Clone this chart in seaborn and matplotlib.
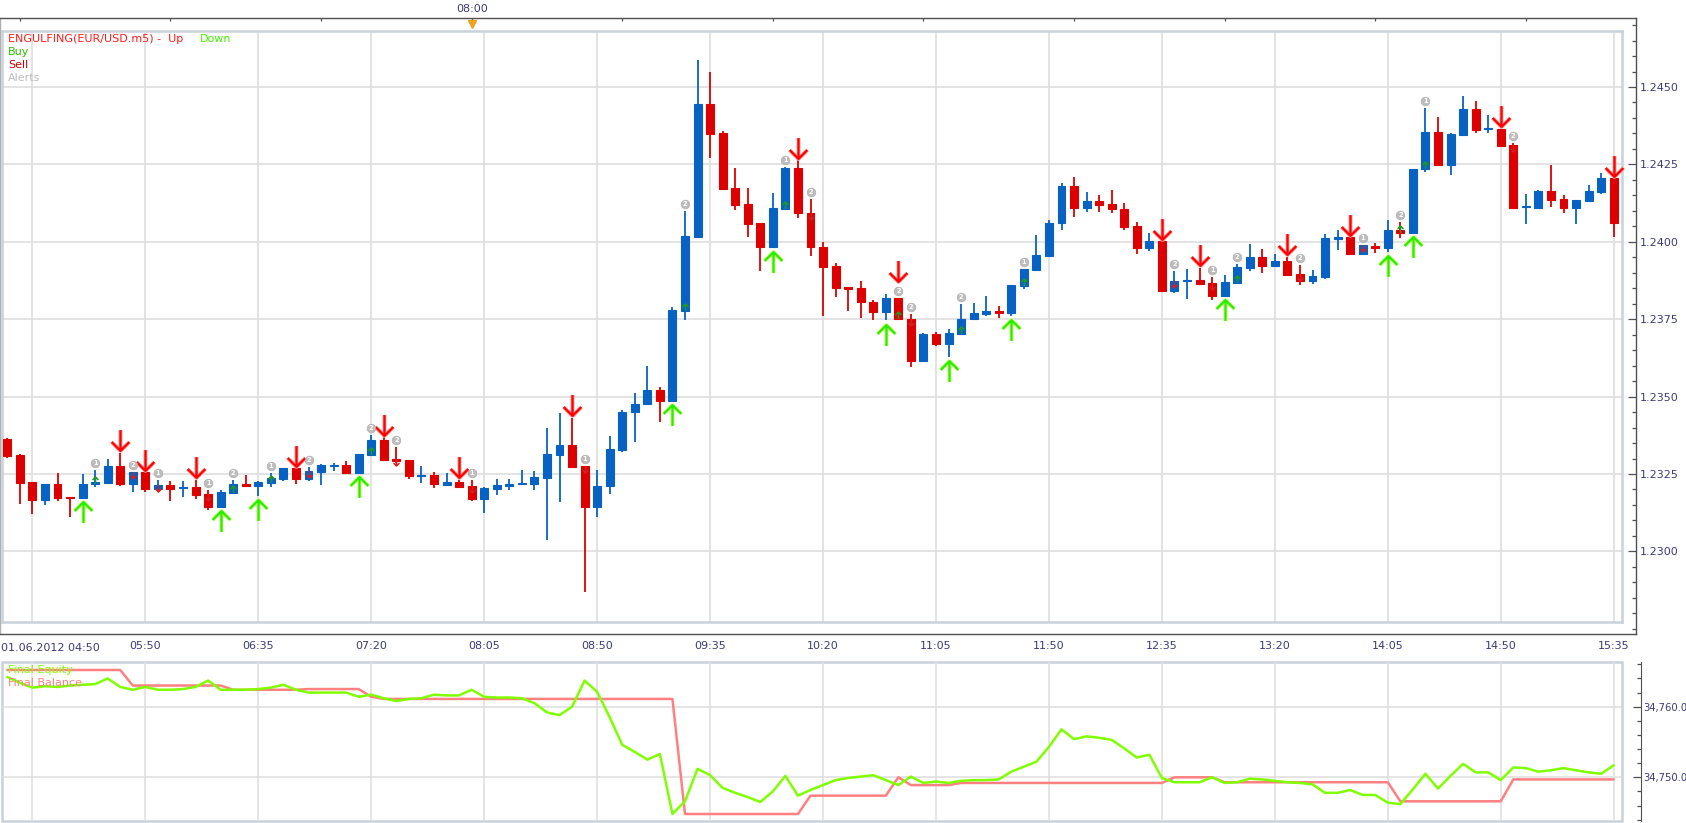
import matplotlib
matplotlib.use("Agg")
import matplotlib.pyplot as plt
import matplotlib.transforms as mtransforms
from matplotlib.path import Path
from matplotlib.patches import Rectangle
from matplotlib.ticker import FixedLocator, MultipleLocator, FuncFormatter
import numpy as np
import pandas as pd
import seaborn as sns

# ---- values (EUR/USD m5, 01.06.2012) ----
time_labels = ["01.06.2012 04:50", "05:50", "06:35", "07:20", "08:05", "08:50", "09:35", "10:20",
               "11:05", "11:50", "12:35", "13:20", "14:05", "14:50", "15:35"]
label_bars = [2, 11, 20, 29, 38, 47, 56, 65, 74, 83, 92, 101, 110, 119, 128]
hour_bars = [1, 13, 25, 37, 49, 61, 73, 85, 97, 109, 121]
now_bar = 37          # "08:00" marker on the top ruler
now_label = "08:00"

open_ = [
    1.23363, 1.23311, 1.23224, 1.23167, 1.23218, 1.23175, 1.23174, 1.23217, 1.23222, 1.23276,
    1.23219, 1.23256, 1.23200, 1.23215, 1.23205, 1.23207, 1.23185, 1.23145, 1.23190, 1.23217,
    1.23212, 1.23222, 1.23235, 1.23269, 1.23235, 1.23258, 1.23276, 1.23279, 1.23254, 1.23311,
    1.23359, 1.23299, 1.23295, 1.23245, 1.23247, 1.23216, 1.23224, 1.23211, 1.23168, 1.23203,
    1.23211, 1.23217, 1.23219, 1.23238, 1.23312, 1.23344, 1.23276, 1.23143, 1.23210, 1.23328,
    1.23449, 1.23475, 1.23522, 1.23487, 1.23778, 1.24016, 1.24445, 1.24351, 1.24174, 1.24122,
    1.24061, 1.23982, 1.24106, 1.24238, 1.24094, 1.23983, 1.23921, 1.23854, 1.23850, 1.23807,
    1.23773, 1.23818, 1.23752, 1.23616, 1.23702, 1.23671, 1.23703, 1.23750, 1.23766, 1.23775,
    1.23770, 1.23857, 1.23909, 1.23954, 1.24060, 1.24181, 1.24108, 1.24132, 1.24121, 1.24107,
    1.24050, 1.23980, 1.24002, 1.23842, 1.23872, 1.23876, 1.23867, 1.23826, 1.23868, 1.23916,
    1.23950, 1.23921, 1.23938, 1.23896, 1.23874, 1.23885, 1.24009, 1.24015, 1.23961, 1.23988,
    1.23981, 1.24038, 1.24029, 1.24234, 1.24355, 1.24249, 1.24345, 1.24429, 1.24365, 1.24365,
    1.24313, 1.24113, 1.24110, 1.24164, 1.24138, 1.24110, 1.24133, 1.24162, 1.24206,
]
high_ = [
    1.23367, 1.23314, 1.23224, 1.23218, 1.23253, 1.23175, 1.23250, 1.23263, 1.23300, 1.23319,
    1.23256, 1.23256, 1.23231, 1.23227, 1.23227, 1.23231, 1.23198, 1.23198, 1.23231, 1.23247,
    1.23226, 1.23252, 1.23269, 1.23269, 1.23271, 1.23282, 1.23286, 1.23292, 1.23314, 1.23376,
    1.23368, 1.23338, 1.23295, 1.23276, 1.23255, 1.23252, 1.23231, 1.23231, 1.23209, 1.23235,
    1.23234, 1.23263, 1.23260, 1.23397, 1.23448, 1.23432, 1.23276, 1.23264, 1.23374, 1.23457,
    1.23513, 1.23599, 1.23532, 1.23791, 1.24100, 1.24586, 1.24547, 1.24359, 1.24238, 1.24174,
    1.24061, 1.24158, 1.24242, 1.24264, 1.24137, 1.23999, 1.23930, 1.23854, 1.23872, 1.23811,
    1.23830, 1.23818, 1.23768, 1.23706, 1.23708, 1.23719, 1.23800, 1.23801, 1.23824, 1.23792,
    1.23859, 1.23913, 1.24023, 1.24070, 1.24189, 1.24210, 1.24162, 1.24150, 1.24166, 1.24124,
    1.24063, 1.24027, 1.24002, 1.23905, 1.23912, 1.23916, 1.23887, 1.23893, 1.23928, 1.23992,
    1.23976, 1.23959, 1.23951, 1.23925, 1.23909, 1.24024, 1.24037, 1.24015, 1.23989, 1.23997,
    1.24070, 1.24063, 1.24235, 1.24433, 1.24403, 1.24351, 1.24471, 1.24455, 1.24410, 1.24365,
    1.24318, 1.24154, 1.24167, 1.24248, 1.24150, 1.24135, 1.24183, 1.24221, 1.24206,
]
low_ = [
    1.23303, 1.23152, 1.23122, 1.23149, 1.23164, 1.23111, 1.23174, 1.23207, 1.23222, 1.23211,
    1.23193, 1.23191, 1.23193, 1.23164, 1.23177, 1.23170, 1.23134, 1.23145, 1.23190, 1.23207,
    1.23180, 1.23207, 1.23226, 1.23219, 1.23229, 1.23216, 1.23261, 1.23254, 1.23254, 1.23311,
    1.23292, 1.23284, 1.23233, 1.23220, 1.23206, 1.23216, 1.23205, 1.23164, 1.23123, 1.23182,
    1.23198, 1.23217, 1.23198, 1.23038, 1.23158, 1.23268, 1.22868, 1.23111, 1.23187, 1.23320,
    1.23354, 1.23475, 1.23418, 1.23487, 1.23749, 1.24016, 1.24271, 1.24172, 1.24103, 1.24016,
    1.23907, 1.23982, 1.24106, 1.24077, 1.23954, 1.23760, 1.23821, 1.23776, 1.23754, 1.23747,
    1.23747, 1.23750, 1.23594, 1.23613, 1.23664, 1.23629, 1.23701, 1.23747, 1.23761, 1.23754,
    1.23761, 1.23848, 1.23909, 1.23954, 1.24038, 1.24081, 1.24097, 1.24095, 1.24093, 1.24039,
    1.23961, 1.23971, 1.23842, 1.23836, 1.23816, 1.23860, 1.23812, 1.23826, 1.23863, 1.23905,
    1.23900, 1.23921, 1.23894, 1.23860, 1.23865, 1.23880, 1.23975, 1.23961, 1.23957, 1.23964,
    1.23968, 1.24013, 1.24029, 1.24227, 1.24249, 1.24217, 1.24343, 1.24353, 1.24351, 1.24311,
    1.24105, 1.24057, 1.24110, 1.24113, 1.24094, 1.24057, 1.24133, 1.24155, 1.24016,
]
close_ = [
    1.23308, 1.23222, 1.23167, 1.23218, 1.23174, 1.23173, 1.23218, 1.23224, 1.23276, 1.23219,
    1.23256, 1.23200, 1.23215, 1.23203, 1.23207, 1.23183, 1.23145, 1.23192, 1.23217, 1.23211,
    1.23224, 1.23237, 1.23269, 1.23235, 1.23260, 1.23279, 1.23278, 1.23254, 1.23314, 1.23359,
    1.23295, 1.23293, 1.23245, 1.23247, 1.23217, 1.23223, 1.23209, 1.23168, 1.23206, 1.23215,
    1.23218, 1.23220, 1.23239, 1.23314, 1.23344, 1.23274, 1.23143, 1.23212, 1.23332, 1.23450,
    1.23477, 1.23522, 1.23487, 1.23780, 1.24018, 1.24445, 1.24348, 1.24172, 1.24119, 1.24058,
    1.23982, 1.24109, 1.24238, 1.24094, 1.23982, 1.23919, 1.23852, 1.23848, 1.23805, 1.23773,
    1.23818, 1.23750, 1.23616, 1.23702, 1.23670, 1.23705, 1.23752, 1.23769, 1.23776, 1.23770,
    1.23859, 1.23911, 1.23956, 1.24061, 1.24181, 1.24108, 1.24132, 1.24119, 1.24106, 1.24048,
    1.23980, 1.24002, 1.23842, 1.23873, 1.23875, 1.23865, 1.23826, 1.23870, 1.23918, 1.23950,
    1.23921, 1.23938, 1.23894, 1.23874, 1.23889, 1.24012, 1.24015, 1.23961, 1.23989, 1.23980,
    1.24038, 1.24029, 1.24235, 1.24355, 1.24249, 1.24348, 1.24429, 1.24361, 1.24368, 1.24311,
    1.24110, 1.24115, 1.24164, 1.24135, 1.24110, 1.24135, 1.24164, 1.24206, 1.24061,
]

sell_bars = [9, 11, 15, 23, 30, 36, 45, 63, 71, 92, 95, 102, 107, 119, 128]
buy_bars = [6, 17, 20, 28, 53, 61, 70, 75, 80, 97, 110, 112]

alert_bars = [7, 10, 12, 16, 18, 21, 24, 29, 31, 37, 46, 54, 62, 64, 71, 72, 76, 81,
              93, 96, 98, 103, 108, 111, 113, 120]
alert_nums = ["1", "2", "1", "1", "2", "1", "2", "2", "2", "1", "1", "2", "1", "2", "2", "2", "2", "1",
              "2", "1", "2", "2", "1", "2", "1", "2"]
alert_side = ["buy", "sell", "sell", "sell", "buy", "buy", "sell", "buy", "sell", "sell", "sell", "buy",
              "buy", "sell", "buy", "sell", "buy", "buy", "sell", "sell", "buy", "sell", "sell", "buy",
              "buy", "sell"]

price_ticks = [1.2300, 1.2325, 1.2350, 1.2375, 1.2400, 1.2425, 1.2450]

equity = [
    34764.2, 34763.4, 34762.7, 34762.9, 34762.8, 34763.0, 34763.1, 34763.2, 34764.0, 34762.8,
    34762.4, 34762.8, 34762.4, 34762.4, 34762.5, 34762.8, 34763.7, 34762.4, 34762.4, 34762.4,
    34762.5, 34762.7, 34763.1, 34762.4, 34762.0, 34762.0, 34762.0, 34762.0, 34761.4, 34761.7,
    34761.2, 34760.8, 34761.1, 34761.2, 34761.7, 34761.6, 34761.6, 34762.4, 34761.4, 34761.3,
    34761.3, 34761.2, 34760.5, 34759.2, 34758.8, 34760.0, 34763.7, 34762.1, 34758.5, 34754.6,
    34753.6, 34752.5, 34753.3, 34744.8, 34746.6, 34751.2, 34750.3, 34748.5, 34747.8, 34747.2,
    34746.5, 34748.0, 34750.2, 34747.4, 34748.2, 34748.9, 34749.6, 34749.9, 34750.1, 34750.3,
    34749.6, 34748.9, 34750.1, 34749.2, 34749.4, 34749.2, 34749.5, 34749.6, 34749.6, 34749.7,
    34750.8, 34751.5, 34752.2, 34754.3, 34756.8, 34755.4, 34755.8, 34755.6, 34755.3, 34754.1,
    34752.8, 34753.2, 34749.9, 34749.3, 34749.3, 34749.3, 34750.0, 34749.2, 34749.3, 34749.8,
    34749.7, 34749.5, 34749.3, 34749.2, 34749.0, 34747.8, 34747.8, 34748.2, 34747.5, 34747.5,
    34746.4, 34746.2, 34748.3, 34750.5, 34748.4, 34750.2, 34751.9, 34750.7, 34750.7, 34749.6,
    34751.4, 34751.3, 34750.8, 34751.0, 34751.3, 34751.0, 34750.7, 34750.5, 34751.7,
]
balance_bars = [0, 9, 10, 17, 18, 23, 24, 28, 29, 30, 53, 54, 63, 64, 70, 71, 72, 75, 76, 92,
                93, 96, 97, 110, 111, 119, 120, 128]
balance_vals = [34765.2, 34765.2, 34763.0, 34763.0, 34762.4, 34762.4, 34762.5, 34762.5, 34761.4,
                34761.1, 34761.1, 34744.8, 34744.8, 34747.4, 34747.4, 34750.0, 34748.9, 34748.9,
                34749.2, 34749.2, 34750.0, 34750.0, 34749.3, 34749.3, 34746.6, 34746.6, 34749.7,
                34749.7]
equity_ticks = [34750, 34760]

# ---- pixel geometry of the reference screen ----
W, H = 1686, 823
BAR0, BAR_PX = 7.3, 12.55


def x_range(l, r):
    return ((l - BAR0) / BAR_PX, (r - BAR0) / BAR_PX)


def p_range(t, b):  # 1.2325 sits at y=474, 77.4 px per 0.0025
    return (1.2325 - (b - 474) / 77.4 * 0.0025, 1.2325 + (474 - t) / 77.4 * 0.0025)


def e_range(t, b):  # 34750 at y=777.3, 7.06 px per unit
    return (34750 - (b - 777.3) / 7.06, 34750 + (777.3 - t) / 7.06)


sns.set_style("white")
plt.rcParams["font.family"] = ["DejaVu Sans"]
plt.rcParams["font.size"] = 8

BLUE, RED = "#0862c4", "#dc0000"
AXIS_TXT = "#3b3b7a"
AXIS_LINE = "#505050"
GRID = "#dedede"
FRAME = "#c9d1da"

fig = plt.figure(figsize=(W / 100, H / 100), dpi=100)


def px_axes(l, t, r, b):
    return fig.add_axes([l / W, 1 - b / H, (r - l) / W, (b - t) / H])


# outer box: time ruler (top), time axis (bottom), price axis (right)
ax_box = px_axes(0, 18, 1636, 634)
ax_box.set_xlim(*x_range(0, 1636))
ax_box.set_ylim(*p_range(18, 634))
for s in ax_box.spines.values():
    s.set_color(AXIS_LINE)
    s.set_linewidth(1.0)
ax_box.spines["left"].set_color("#b0b0b0")
ax_box.xaxis.set_major_locator(FixedLocator(label_bars))
ax_box.set_xticklabels([""] + time_labels[1:])
ax_box.xaxis.set_minor_locator(MultipleLocator(1))
ax_box.tick_params(axis="x", which="major", direction="in", length=8.6, width=0.9, color=AXIS_LINE,
                   labelsize=8, labelcolor=AXIS_TXT, pad=5)
ax_box.tick_params(axis="x", which="minor", direction="in", length=3, width=0.8, color=AXIS_LINE)
ax_box.yaxis.set_major_locator(FixedLocator(price_ticks))
ax_box.yaxis.set_minor_locator(MultipleLocator(0.0005))
ax_box.yaxis.set_major_formatter(FuncFormatter(lambda v, p: f"{v:.4f}"))
ax_box.tick_params(axis="y", which="both", left=False, right=True, labelleft=False, labelright=True,
                   direction="in", color=AXIS_LINE, width=0.9)
ax_box.tick_params(axis="y", which="major", length=5.8, labelsize=8, labelcolor=AXIS_TXT, pad=2.5)
ax_box.tick_params(axis="y", which="minor", length=3)
ax_box.vlines(hour_bars, 1 - 3 / 616, 1, transform=ax_box.get_xaxis_transform(),
              color=AXIS_LINE, lw=0.9)
ax_box.plot([now_bar], [1 - 6 / 616], marker="v", ms=6, color="#f0a020",
            transform=ax_box.get_xaxis_transform(), clip_on=False, zorder=10)
ax_box.text(now_bar, 1, now_label, ha="center", va="center", color=AXIS_TXT, fontsize=8,
            transform=mtransforms.offset_copy(ax_box.get_xaxis_transform(), fig=fig, y=9, units="dots"))
fig.text(1 / W, 1 - 648 / H, time_labels[0], ha="left", va="center", color=AXIS_TXT, fontsize=8)

# ---- candle panel ----
ax = px_axes(2, 31, 1622, 622)
df = pd.DataFrame({"bar": np.arange(len(open_)), "open": open_, "high": high_,
                   "low": low_, "close": close_})
df["color"] = np.where(df["close"] >= df["open"], BLUE, RED)
df["body_lo"] = df[["open", "close"]].min(axis=1)
df["body_hi"] = df[["open", "close"]].max(axis=1)

ax.vlines(df["bar"], df["low"], df["high"], colors=df["color"], lw=1.3, zorder=3)
ax.bar(df["bar"], df["body_hi"] - df["body_lo"], bottom=df["body_lo"], width=0.63,
       color=df["color"], edgecolor=df["color"], linewidth=0.8, zorder=4)

ax.set_xlim(*x_range(2, 1622))
ax.set_ylim(*p_range(31, 622))
ax.set_xticks(label_bars)
ax.set_yticks(price_ticks)
ax.grid(True, color=GRID, lw=1.2)
ax.set_axisbelow(True)
ax.tick_params(length=0, labelbottom=False, labelleft=False)
for s in ax.spines.values():
    s.set_color(FRAME)
    s.set_linewidth(1.8)

down_arrow = Path([(0, 1), (0, -1), (-0.85, -0.15), (0, -1), (0.85, -0.15)],
                  [Path.MOVETO, Path.LINETO, Path.MOVETO, Path.LINETO, Path.LINETO])
up_arrow = Path([(0, -1), (0, 1), (-0.85, 0.15), (0, 1), (0.85, 0.15)],
                [Path.MOVETO, Path.LINETO, Path.MOVETO, Path.LINETO, Path.LINETO])

hi = df.set_index("bar")["high"]
lo = df.set_index("bar")["low"]
b_lo = df.set_index("bar")["body_lo"]
b_hi = df.set_index("bar")["body_hi"]


def arrows(bars, yvals, path, dy, layers, size):
    if len(bars) == 0:
        return
    tr = mtransforms.offset_copy(ax.transData, fig=fig, y=dy, units="dots")
    for col, w in layers:
        ax.plot(bars, yvals, ls="none", marker=path, ms=size, mfc="none", mec=col, mew=w,
                transform=tr, zorder=6, clip_on=False)


sell_plain = [b for b in sell_bars if b not in alert_bars]
sell_stack = [b for b in sell_bars if b in alert_bars]
red_layers = [("#ff9c9c", 2.8), ("#ff0000", 1.6)]
green_layers = [("#d4ff70", 2.8), ("#22f000", 1.6)]
arrows(sell_plain, hi[sell_plain].values, down_arrow, 12.5, red_layers, 15)
arrows(sell_stack, hi[sell_stack].values, down_arrow, 27, red_layers, 15)
arrows(buy_bars, lo[buy_bars].values, up_arrow, -14.5, green_layers, 15)

# alert markers: grey numbered dots plus tiny arrows
tr_dot = mtransforms.offset_copy(ax.transData, fig=fig, y=7, units="dots")
ax.plot(alert_bars, hi[alert_bars].values, ls="none", marker="o", ms=6.3, color="#bdbdbd",
        mec="#a9a9a9", mew=0.4, transform=tr_dot, zorder=7)
for b, n in zip(alert_bars, alert_nums):
    ax.text(b, hi[b], n, transform=tr_dot, fontsize=4.8, color="white", fontweight="bold",
            ha="center", va="center", zorder=8)
a_buy = [b for b, s in zip(alert_bars, alert_side) if s == "buy"]
a_sell = [b for b, s in zip(alert_bars, alert_side) if s == "sell"]
arrows(a_buy, b_lo[a_buy].values, up_arrow, 4, [("#1f9a1f", 1.1)], 5)
arrows(a_sell, b_hi[a_sell].values, down_arrow, -3, [("#d42020", 1.1)], 5)

fig.text(8 / W, 1 - 39 / H, "ENGULFING(EUR/USD.m5) -  Up", color="#ff1a1a", fontsize=8, va="center")
fig.text(200 / W, 1 - 39 / H, "Down", color="#44ee00", fontsize=8, va="center")
fig.text(8 / W, 1 - 52 / H, "Buy", color="#2fbf00", fontsize=8, va="center")
fig.text(8 / W, 1 - 65 / H, "Sell", color="#d00000", fontsize=8, va="center")
fig.text(8 / W, 1 - 78 / H, "Alerts", color="#bdbdbd", fontsize=8, va="center")

# ---- equity / balance panel ----
ax_eq = px_axes(2, 662, 1622, 821)
sns.lineplot(x=balance_bars, y=balance_vals, ax=ax_eq, color="#ff8080", lw=1.8)
sns.lineplot(x=list(range(len(equity))), y=equity, ax=ax_eq, color="#80ff00", lw=1.8)
ax_eq.set(xlabel=None, ylabel=None)
ax_eq.set_xlim(*x_range(2, 1622))
ax_eq.set_ylim(*e_range(662, 821))
ax_eq.set_xticks(label_bars)
ax_eq.yaxis.set_major_locator(FixedLocator(equity_ticks))
ax_eq.yaxis.set_minor_locator(MultipleLocator(2))
ax_eq.yaxis.set_major_formatter(FuncFormatter(lambda v, p: f"{v:,.1f}"))
ax_eq.grid(True, color=GRID, lw=1.1)
ax_eq.set_axisbelow(True)
ax_eq.tick_params(axis="x", length=0, labelbottom=False)
ax_eq.yaxis.tick_right()
ax_eq.tick_params(axis="y", which="both", direction="in", color=AXIS_LINE, width=0.9,
                  left=False, right=True, labelleft=False, labelright=True)
ax_eq.tick_params(axis="y", which="major", length=5.8, labelsize=7.2, labelcolor=AXIS_TXT, pad=1.5)
ax_eq.tick_params(axis="y", which="minor", length=3)
for name, s in ax_eq.spines.items():
    s.set_visible(name == "right")
ax_eq.spines["right"].set_position(("outward", 14))
ax_eq.spines["right"].set_color(AXIS_LINE)
ax_eq.add_patch(Rectangle((0, 0), 1, 1, transform=ax_eq.transAxes, fill=False, ec=FRAME, lw=1.8,
                          clip_on=False, zorder=0))
fig.text(8 / W, 1 - 670 / H, "Final Equity", color="#80ff00", fontsize=8, va="center")
fig.text(8 / W, 1 - 683 / H, "Final Balance", color="#ff8080", fontsize=8, va="center")

fig.savefig("out.png", dpi=100)
